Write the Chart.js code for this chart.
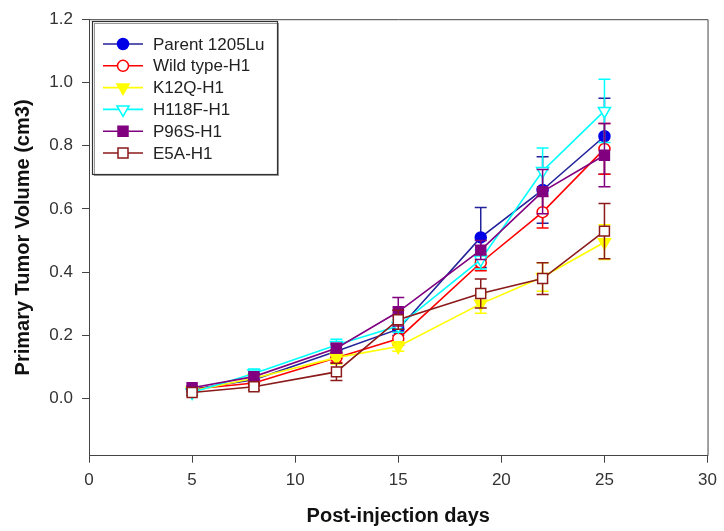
<!DOCTYPE html>
<html>
<head>
<meta charset="utf-8">
<script src="https://cdn.jsdelivr.net/npm/chart.js@4/dist/chart.umd.min.js"></script>
<style>
  html, body { margin: 0; padding: 0; background: #fff; }
  #wrap { width: 724px; height: 531px; }
</style>
</head>
<body>
<div id="wrap"><canvas id="tumor" width="724" height="531"></canvas></div>
<script>
// days after injection
const days = [5, 8, 12, 15, 19, 22, 25];

// mean tumor volume (cm3) and error bar half-height per group
const parent = [0.03, 0.06, 0.15, 0.22, 0.51, 0.66, 0.83];
const parentErr = [0.005, 0.01, 0.02, 0.02, 0.095, 0.105, 0.12];
const wildType = [0.03, 0.05, 0.13, 0.19, 0.43, 0.59, 0.79];
const wildTypeErr = [0.005, 0.01, 0.015, 0.02, 0.025, 0.05, 0.08];
const k12q = [0.025, 0.065, 0.13, 0.165, 0.30, 0.385, 0.495];
const k12qErr = [0.005, 0.01, 0.02, 0.015, 0.03, 0.045, 0.055];
const h118f = [0.02, 0.08, 0.17, 0.23, 0.44, 0.72, 0.91];
const h118fErr = [0.005, 0.014, 0.018, 0.02, 0.03, 0.073, 0.1];
const p96s = [0.035, 0.07, 0.16, 0.275, 0.47, 0.655, 0.77];
const p96sErr = [0.005, 0.01, 0.015, 0.045, 0.03, 0.07, 0.1];
const e5a = [0.02, 0.038, 0.085, 0.25, 0.333, 0.38, 0.53];
const e5aErr = [0.01, 0.01, 0.027, 0.03, 0.046, 0.05, 0.087];

const xTicks = [0, 5, 10, 15, 20, 25, 30];
const yTicks = [0, 0.2, 0.4, 0.6, 0.8, 1.0, 1.2];

const FONT = "'Liberation Sans', Arial, sans-serif";

function series(label, values, errors, line, fill, border, style, order) {
  return {
    label: label,
    data: days.map((d, i) => ({ x: d, y: values[i] })),
    errors: errors,
    borderColor: line,
    borderWidth: 1.6,
    pointStyle: style,
    pointRotation: style === 'triangle' ? 180 : 0,
    pointRadius: style === 'circle' ? 5.5 : 7,
    pointHoverRadius: style === 'circle' ? 5.5 : 7,
    pointBackgroundColor: fill,
    pointBorderColor: border,
    pointBorderWidth: 1.5,
    tension: 0,
    fill: false,
    order: order
  };
}

const datasets = [
  series('Parent 1205Lu', parent, parentErr, '#22229a', '#0000e6', '#0000e6', 'circle', 6),
  series('Wild type-H1', wildType, wildTypeErr, '#ff0000', '#ffffff', '#ff0000', 'circle', 5),
  series('K12Q-H1', k12q, k12qErr, '#ffff00', '#ffff00', '#ffff00', 'triangle', 4),
  series('H118F-H1', h118f, h118fErr, '#00ffff', '#ffffff', '#00ffff', 'triangle', 3),
  series('P96S-H1', p96s, p96sErr, '#800080', '#800080', '#800080', 'rect', 2),
  series('E5A-H1', e5a, e5aErr, '#8b1a1a', '#ffffff', '#8b1a1a', 'rect', 1)
];

// vertical error bars with caps, drawn under each series' own line and markers
const errorBars = {
  id: 'errorBars',
  beforeDatasetDraw(chart, args) {
    const ds = chart.data.datasets[args.index];
    const x = chart.scales.x, y = chart.scales.y;
    const ctx = chart.ctx;
    ctx.save();
    ctx.strokeStyle = ds.borderColor;
    ctx.lineWidth = 1.5;
    ds.data.forEach((p, i) => {
      const e = ds.errors[i];
      const px = x.getPixelForValue(p.x);
      const top = y.getPixelForValue(p.y + e);
      const bot = y.getPixelForValue(p.y - e);
      ctx.beginPath();
      ctx.moveTo(px, top); ctx.lineTo(px, bot);
      ctx.moveTo(px - 6, top); ctx.lineTo(px + 6, top);
      ctx.moveTo(px - 6, bot); ctx.lineTo(px + 6, bot);
      ctx.stroke();
    });
    ctx.restore();
  }
};

function marker(ctx, style, cx, cy, fill, border) {
  ctx.beginPath();
  if (style === 'circle') {
    ctx.arc(cx, cy, 5.5, 0, Math.PI * 2);
  } else if (style === 'triangle') {
    const r = 7;
    ctx.moveTo(cx, cy + r);
    ctx.lineTo(cx - r * 0.866, cy - r / 2);
    ctx.lineTo(cx + r * 0.866, cy - r / 2);
    ctx.closePath();
  } else {
    ctx.rect(cx - 5, cy - 5, 10, 10);
  }
  ctx.fillStyle = fill;
  ctx.fill();
  ctx.lineWidth = 1.5;
  ctx.strokeStyle = border;
  ctx.stroke();
}

// frame on top/right plus the boxed legend in the upper-left corner
const frameAndLegend = {
  id: 'frameAndLegend',
  afterDraw(chart) {
    const ctx = chart.ctx;
    const a = chart.chartArea;
    ctx.save();
    ctx.strokeStyle = '#444';
    ctx.lineWidth = 1;
    ctx.beginPath();
    ctx.moveTo(a.left, a.top + 0.5);
    ctx.lineTo(a.right + 0.5, a.top + 0.5);
    ctx.lineTo(a.right + 0.5, a.bottom);
    ctx.stroke();

    const bx = 92, by = 21, bw = 186, bh = 154;
    ctx.fillStyle = '#fff';
    ctx.fillRect(bx, by, bw, bh);
    ctx.strokeStyle = '#999';
    ctx.lineWidth = 1;
    ctx.strokeRect(bx + 2.5, by + 2.5, bw - 2, bh - 2);
    ctx.strokeStyle = '#333';
    ctx.lineWidth = 1.2;
    ctx.strokeRect(bx + 0.5, by + 0.5, bw - 1, bh - 1);

    ctx.font = '17px ' + FONT;
    ctx.textBaseline = 'middle';
    ctx.textAlign = 'left';
    chart.data.datasets.forEach((ds, i) => {
      const cy = 44 + i * 21.8;
      ctx.strokeStyle = ds.borderColor;
      ctx.lineWidth = 1.6;
      ctx.beginPath();
      ctx.moveTo(103, cy); ctx.lineTo(143, cy);
      ctx.stroke();
      marker(ctx, ds.pointStyle, 123, cy, ds.pointBackgroundColor, ds.pointBorderColor);
      ctx.fillStyle = '#222';
      ctx.fillText(ds.label, 153, cy + 1);
    });
    ctx.restore();
  }
};

const config = {
  type: 'line',
  data: { datasets: datasets },
  options: {
    responsive: false,
    animation: false,
    events: [],
    layout: { padding: { top: 19, right: 11.3, left: 0, bottom: 0 } },
    plugins: {
      legend: { display: false },
      tooltip: { enabled: false }
    },
    scales: {
      x: {
        type: 'linear',
        min: 0,
        max: 30,
        afterBuildTicks: axis => { axis.ticks = xTicks.map(v => ({ value: v })); },
        afterFit: axis => { axis.height = 75.3; },
        grid: { drawOnChartArea: false, drawTicks: true, tickLength: 7, color: '#444' },
        border: { display: true, color: '#444', width: 1 },
        ticks: { color: '#333', padding: 7, font: { family: FONT, size: 17 } },
        title: {
          display: true,
          text: 'Post-injection days',
          color: '#111',
          padding: { top: 0, bottom: 3 },
          font: { family: FONT, size: 20, weight: 'bold' }
        }
      },
      y: {
        min: -0.18,
        max: 1.2,
        afterBuildTicks: axis => { axis.ticks = yTicks.map(v => ({ value: v })); },
        afterFit: axis => { axis.width = 89; },
        grid: { drawOnChartArea: false, drawTicks: true, tickLength: 7, color: '#444' },
        border: { display: true, color: '#444', width: 1 },
        ticks: {
          color: '#333',
          padding: 9,
          font: { family: FONT, size: 17 },
          callback: v => v.toFixed(1)
        },
        title: {
          display: true,
          text: 'Primary Tumor Volume (cm3)',
          color: '#111',
          padding: { top: 11, bottom: 0 },
          font: { family: FONT, size: 20, weight: 'bold' }
        }
      }
    }
  },
  plugins: [errorBars, frameAndLegend]
};

const tumorChart = new Chart(document.getElementById('tumor'), config);
</script>
</body>
</html>
